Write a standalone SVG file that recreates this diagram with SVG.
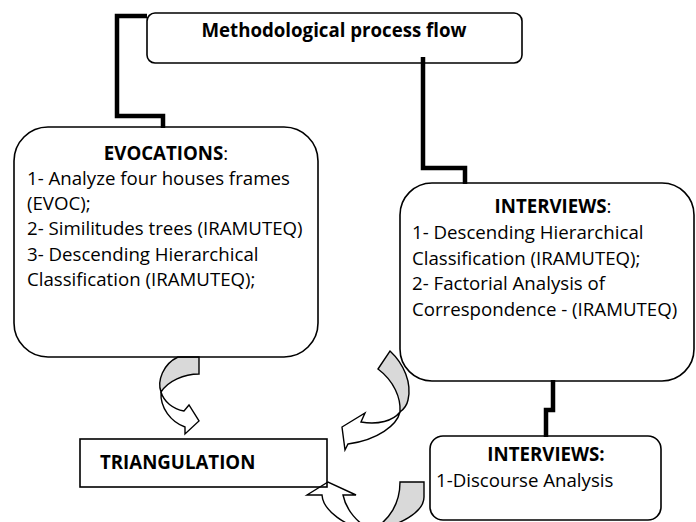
<svg xmlns="http://www.w3.org/2000/svg" width="696" height="522" viewBox="0 0 696 522">
<defs>
<style>
.box{fill:none;stroke:#000;stroke-width:1.6}
.conn{fill:none;stroke:#000;stroke-width:4.5;stroke-linejoin:miter}
.arw{stroke:#000;stroke-width:1.4;stroke-linejoin:miter}
.g{fill:#d9d9d9}
.w{fill:#fff}
text{font-family:"Open Sans","Noto Sans","DejaVu Sans",sans-serif;fill:#000;font-size:18.67px}
.b{font-weight:bold}
.c{text-anchor:middle}
</style>
</defs>
<rect width="696" height="522" fill="#fff"/>
<g id="connectors">
<path class="conn" d="M147,16 L117,16 L117,116 L163,116 L163,128"/>
<path class="conn" d="M423,57 L423,168 L465,168 L465,184"/>
<path class="conn" d="M553,380 L553,410 L546,410 L546,437"/>
<g id="arrow-evoc-tri">
<path class="arw g" d="M178,357 L199,357 L199,374 C184,374 168,381 161,392 C157,381 163,364 178,357 Z"/>
<path class="arw w" d="M161,392 C160,408 171,422 185,427 L185,434 L199,421 L189,405 L184,411 C173,409 164,402 161,392 Z"/>
</g>
<g id="arrow-int-tri">
<path class="arw g" d="M378,369 L390,351 C404,364 412,383 408,400 C407,405 404,409 400,412 C401,398 394,381 378,369 Z"/>
<path class="arw w" d="M400,412 C397,425 378,440 348,444 L345,450 L342,427 L365,413 L361,422 C378,425 393,421 400,412 Z"/>
</g>
<g id="arrow-disc-tri">
<path class="arw g" d="M372,530 C400,526 424,512 424,497 L424,482 L400,482 C400,503 390,520 372,530 Z"/>
<path class="arw w" d="M372,530 C345,528 323,510 322,495 L307,495 L328,482 L356,495 L343,495 C346,510 358,524 372,530 Z"/>
</g>
</g>
<g id="title">
<rect class="box" x="147" y="13" width="375" height="50" rx="8"/>
<text class="b c" x="334" y="37">Methodological process flow</text>
</g>
<g id="evocations">
<rect class="box" x="14" y="127" width="304" height="230" rx="34"/>
<text class="c" x="166" y="160"><tspan class="b">EVOCATIONS</tspan>:</text>
<text x="27" y="185">1- Analyze four houses frames</text>
<text x="27" y="210">(EVOC);</text>
<text x="27" y="235">2- Similitudes trees (IRAMUTEQ)</text>
<text x="27" y="261">3- Descending Hierarchical</text>
<text x="27" y="286">Classification (IRAMUTEQ);</text>
</g>
<g id="interviews">
<rect class="box" x="400" y="183" width="294" height="198" rx="32"/>
<text class="c" x="553" y="213"><tspan class="b">INTERVIEWS</tspan>:</text>
<text x="412" y="239">1- Descending Hierarchical</text>
<text x="412" y="265">Classification (IRAMUTEQ);</text>
<text x="412" y="290">2- Factorial Analysis of</text>
<text x="412" y="316">Correspondence - (IRAMUTEQ)</text>
</g>
<g id="triangulation">
<rect class="box" x="80" y="439" width="247" height="48"/>
<text class="b" x="100" y="469">TRIANGULATION</text>
</g>
<g id="discourse">
<rect class="box" x="430" y="436" width="231" height="84" rx="13"/>
<text class="c" x="546" y="461"><tspan class="b">INTERVIEWS:</tspan></text>
<text x="436" y="487">1-Discourse Analysis</text>
</g>
</svg>
